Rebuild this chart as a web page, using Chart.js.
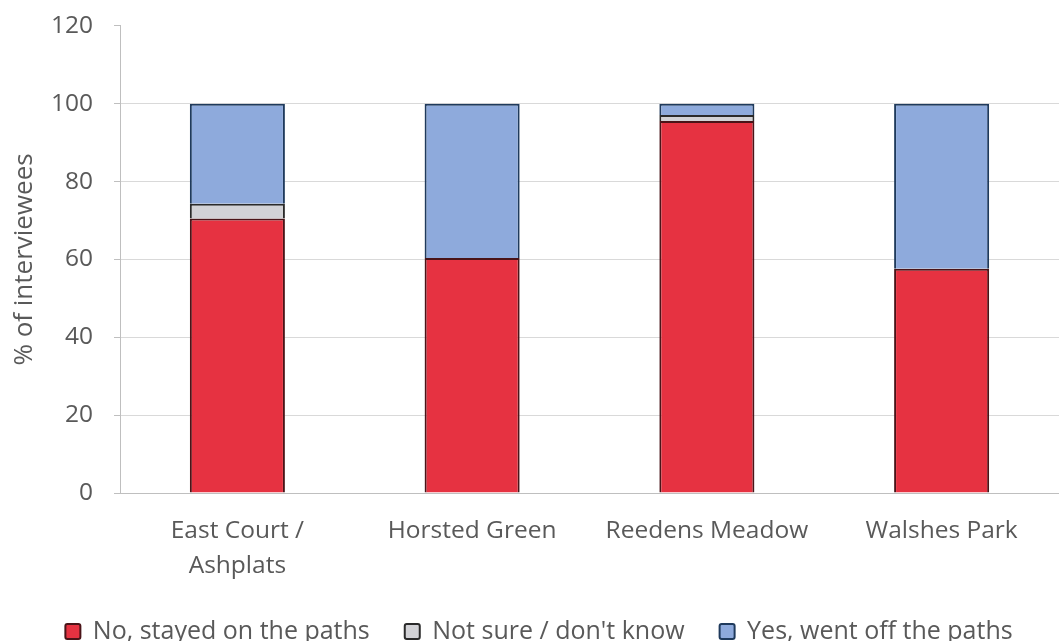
<!DOCTYPE html>
<html>
<head>
<meta charset="utf-8">
<script src="https://cdn.jsdelivr.net/npm/chart.js@4/dist/chart.umd.min.js"></script>
<style>
  html, body { margin: 0; padding: 0; background: #fff; }
  #wrap { width: 1059px; height: 641px; position: relative; }
</style>
</head>
<body>
<div id="wrap"><canvas id="chart"></canvas></div>
<script>
'use strict';

// Sites surveyed and share of interviewees per answer (%)
const sites = [['East Court /', 'Ashplats'], 'Horsted Green', 'Reedens Meadow', 'Walshes Park'];
const stayedOnPaths = [70.5, 60.4, 95.6, 57.6];
const notSure       = [3.8, 0, 1.5, 0];
const wentOffPaths  = [25.7, 39.6, 2.9, 42.4];
const yTicks = [0, 20, 40, 60, 80, 100, 120];

const FONT = "'Open Sans', 'DejaVu Sans', sans-serif";
const GREY_TEXT = '#595959';

const ctx = document.getElementById('chart').getContext('2d');

new Chart(ctx, {
  type: 'bar',
  data: {
    labels: sites,
    datasets: [
      { label: 'No, stayed on the paths', data: stayedOnPaths,
        backgroundColor: '#e63241', borderColor: '#4a1418', borderWidth: 2 },
      { label: 'Not sure / don\'t know', data: notSure,
        backgroundColor: '#d2d2d6', borderColor: '#2a2a2a', borderWidth: 2 },
      { label: 'Yes, went off the paths', data: wentOffPaths,
        backgroundColor: '#8eaadc', borderColor: '#1f3a5c', borderWidth: 2 }
    ]
  },
  options: {
    responsive: true,
    maintainAspectRatio: false,
    animation: false,
    categoryPercentage: 0.81,
    barPercentage: 0.5,
    // plot runs slightly past the right edge, gridlines get clipped there
    layout: { padding: { top: 0, right: -9, left: 10, bottom: -13 } },
    plugins: {
      tooltip: { enabled: false },
      legend: {
        position: 'bottom',
        labels: {
          font: { family: FONT, size: 25 },
          color: GREY_TEXT,
          boxWidth: 15,
          boxHeight: 15,
          padding: 35,
          useBorderRadius: true,
          borderRadius: 2
        }
      }
    },
    scales: {
      x: {
        stacked: true,
        grid: { display: false },
        border: { display: true, color: '#bfbfbf', width: 1 },
        ticks: {
          color: GREY_TEXT,
          font: { family: FONT, size: 24.5, lineHeight: 1.45 },
          padding: 12,
          maxRotation: 0
        },
        afterFit: s => { s.height = 91; }
      },
      y: {
        stacked: true,
        min: 0,
        max: 120,
        afterBuildTicks: s => { s.ticks = yTicks.map(v => ({ value: v })); },
        grid: {
          color: c => (c.tick && c.tick.value === 120 ? 'rgba(0,0,0,0)' : '#d9d9d9'),
          tickLength: 6,
          tickColor: '#bfbfbf'
        },
        border: { display: true, color: '#bfbfbf', width: 1 },
        ticks: {
          color: GREY_TEXT,
          font: { family: FONT, size: 24.5, lineHeight: 0.4 },
          padding: 21
        },
        title: {
          display: true,
          text: '% of interviewees',
          color: GREY_TEXT,
          font: { family: FONT, size: 26 },
          padding: { top: -1, bottom: 0 }
        },
        afterFit: s => { s.width = 110; }
      }
    }
  }
});
</script>
</body>
</html>
